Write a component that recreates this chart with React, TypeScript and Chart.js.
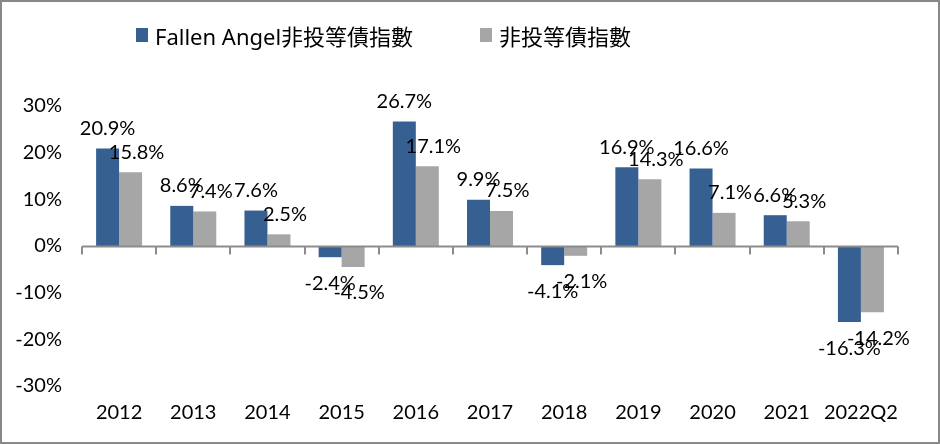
import React, { useEffect, useRef } from "react";
import { Chart, registerables } from "chart.js";

Chart.register(...registerables);

const categories = ["2012", "2013", "2014", "2015", "2016", "2017", "2018", "2019", "2020", "2021", "2022Q2"];
const fallenAngel = [20.9, 8.6, 7.6, -2.4, 26.7, 9.9, -4.1, 16.9, 16.6, 6.6, -16.3];
const highYield = [15.8, 7.4, 2.5, -4.5, 17.1, 7.5, -2.1, 14.3, 7.1, 5.3, -14.2];
const seriesNames = ["Fallen Angel非投等債指數", "非投等債指數"];
const yTicks = [-30, -20, -10, 0, 10, 20, 30];

const BLUE = "#376092";
const GRAY = "#A6A6A6";
const FONT = "Lato, 'Noto Sans', sans-serif";

const zeroAxisPlugin = {
  id: "zeroAxis",
  afterDatasetsDraw(chart: any) {
    const { ctx, scales } = chart;
    const x = scales.x;
    const y = scales.y;
    const y0 = Math.round(y.getPixelForValue(0)) + 0.5;
    const n = chart.data.labels.length;
    const w = (x.right - x.left) / n;
    ctx.save();
    ctx.strokeStyle = "#8c8c8c";
    ctx.lineWidth = 2;
    ctx.beginPath();
    ctx.moveTo(x.left, y0);
    ctx.lineTo(x.right, y0);
    for (let i = 0; i <= n; i++) {
      const px = Math.round(x.getPixelForValue(0) - w / 2 + i * w);
      ctx.moveTo(px, y0);
      ctx.lineTo(px, y0 + 8);
    }
    ctx.stroke();
    ctx.restore();
  },
};

const labelPlugin = {
  id: "valueLabels",
  afterDatasetsDraw(chart: any) {
    const { ctx } = chart;
    ctx.save();
    ctx.font = `20px ${FONT}`;
    ctx.fillStyle = "#000";
    ctx.textAlign = "center";
    ctx.textBaseline = "middle";
    chart.data.datasets.forEach((ds: any, di: number) => {
      const meta = chart.getDatasetMeta(di);
      meta.data.forEach((el: any, i: number) => {
        const v = ds.data[i];
        const dx = di === 1 ? 6 : 0;
        const yy = v >= 0 ? el.y - 20 : el.y + 26;
        ctx.fillText(`${v.toFixed(1)}%`, el.x + dx, yy);
      });
    });
    ctx.restore();
  },
};

export default function App() {
  const ref = useRef<HTMLCanvasElement | null>(null);
  useEffect(() => {
    document.body.style.margin = "0";
    const chart = new Chart(ref.current as HTMLCanvasElement, {
      type: "bar",
      data: {
        labels: categories,
        datasets: [
          { label: seriesNames[0], data: fallenAngel, backgroundColor: BLUE, categoryPercentage: 0.62, barPercentage: 1 },
          { label: seriesNames[1], data: highYield, backgroundColor: GRAY, categoryPercentage: 0.62, barPercentage: 1 },
        ],
      },
      options: {
        animation: false,
        responsive: false,
        maintainAspectRatio: false,
        layout: { padding: { top: 106, right: 42, bottom: 0, left: 0 } },
        plugins: { legend: { display: false }, tooltip: { enabled: false } },
        scales: {
          x: {
            grid: { display: false, drawTicks: false },
            border: { display: false },
            ticks: { color: "#000", font: { family: FONT, size: 20 }, padding: 15, maxRotation: 0, autoSkip: false },
            afterFit: (s: any) => { s.height = 58; },
          },
          y: {
            min: -30,
            max: 30,
            afterBuildTicks: (s: any) => { s.ticks = yTicks.map((v) => ({ value: v })); },
            grid: { display: false, drawTicks: false },
            border: { display: false },
            ticks: { color: "#000", font: { family: FONT, size: 20 }, padding: 20, callback: (v: any) => `${v}%` },
            afterFit: (s: any) => { s.width = 82; },
          },
        },
      },
      plugins: [zeroAxisPlugin, labelPlugin],
    });
    return () => chart.destroy();
  }, []);

  const legendItem = (color: string, text: string, left: number) => (
    <div style={{ position: "absolute", left, top: 20, height: 30, display: "flex", alignItems: "center", whiteSpace: "nowrap" }}>
      <span style={{ display: "inline-block", width: 12, height: 14, background: color, marginRight: 7 }} />
      <span style={{ fontFamily: "'Noto Sans', 'Noto Sans CJK TC', sans-serif", fontSize: 22, color: "#000" }}>{text}</span>
    </div>
  );

  return (
    <div style={{ position: "fixed", left: 0, top: 0, width: 940, height: 444, background: "#fff" }}>
      <canvas ref={ref} width={940} height={444} style={{ position: "absolute", left: 0, top: 0 }} />
      {legendItem(BLUE, seriesNames[0], 136)}
      {legendItem(GRAY, seriesNames[1], 480)}
      <div style={{ position: "absolute", left: 0, top: 0, width: 940, height: 444, boxSizing: "border-box", border: "2px solid #888", pointerEvents: "none" }} />
    </div>
  );
}
